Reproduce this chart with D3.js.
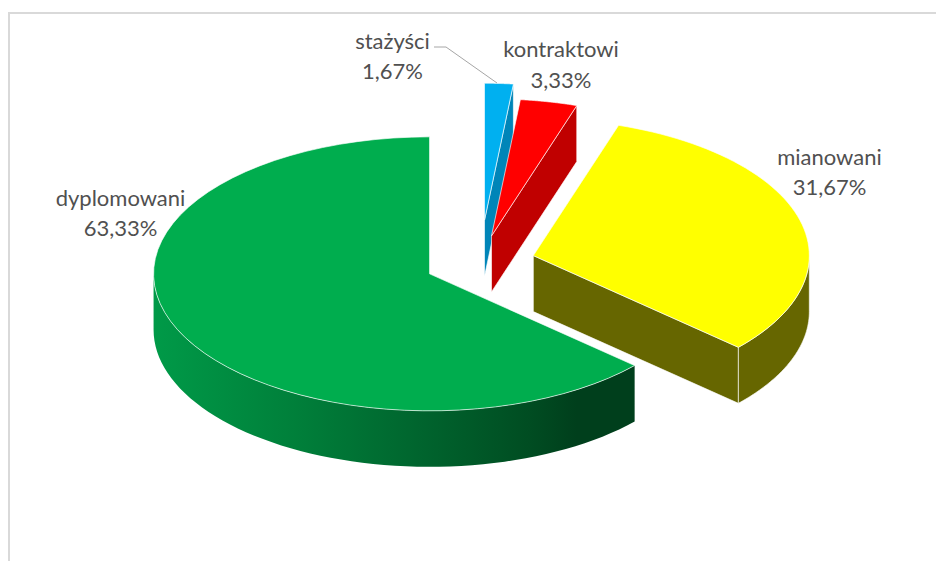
<!DOCTYPE html>
<html>
<head>
<meta charset="utf-8">
<script src="https://cdn.jsdelivr.net/npm/d3@7"></script>
<style>
  html, body { margin: 0; padding: 0; background: #fff; }
  svg { display: block; }
</style>
</head>
<body>
<div id="chart"></div>
<script>
const categories = ['stażyści', 'kontraktowi', 'mianowani', 'dyplomowani'];
const percents = [1.67, 3.33, 31.67, 63.33];
const percentLabels = ['1,67%', '3,33%', '31,67%', '63,33%'];

const width = 936, height = 561;
const rx = 276, ry = 137, depth = 56;
const cx = 480, cy = 262.7;

// how far each slice is pulled out of the pie, as a share of the radius
const explode = [0.31, 0.2, 0.2, 0.2];
const topColors = ['#00b0f0', '#ff0000', '#ffff00', '#00ad4e'];
const sideColors = ['#0085b8', '#c00000', '#666600', '#003f1c'];
const labelPos = [[392.5, 48.5], [561, 57], [829.5, 164.5], [120.5, 205.5]];

const svg = d3.select('#chart')
  .append('svg')
  .attr('width', width)
  .attr('height', height);

const line = d3.line();

// only the top and left of the chart frame are inside the picture
svg.append('path')
  .attr('d', line([[9, height], [9, 13], [width, 13]]))
  .style('fill', 'none')
  .style('stroke', '#d9d9d9')
  .style('stroke-width', 2);

const pie = d3.pie().sort(null).value(d => d)(percents);

const slices = pie.map((p, i) => {
  const mid = (p.startAngle + p.endAngle) / 2;
  return {
    i: i,
    start: p.startAngle,
    end: p.endAngle,
    ox: cx + explode[i] * rx * Math.sin(mid),
    oy: cy - explode[i] * ry * Math.cos(mid)
  };
});

const rim = (s, a, dy) => [s.ox + rx * Math.sin(a), s.oy - ry * Math.cos(a) + (dy || 0)];
const arcPts = (s, a0, a1, dy) => d3.range(0, 61).map(k => rim(s, a0 + (a1 - a0) * k / 60, dy));

const defs = svg.append('defs');
const grad = defs.append('linearGradient')
  .attr('id', 'greenWall')
  .attr('gradientUnits', 'userSpaceOnUse')
  .attr('x1', 153).attr('x2', 634).attr('y1', 0).attr('y2', 0);
[[0, '#009a48'], [0.3, '#007f3a'], [0.55, '#00652e'], [0.78, '#004d22'], [0.88, '#003f1c'], [1, '#003f1c']]
  .forEach(d => grad.append('stop').attr('offset', d[0]).attr('stop-color', d[1]));

const faceStroke = 'rgba(255,255,255,0.8)';

slices.forEach(s => {
  const g = svg.append('g').attr('class', 'slice');

  // radial wall on the trailing edge, only seen on the three right hand slices
  if (s.end < Math.PI) {
    const a = rim(s, s.end);
    const o = [s.ox, s.oy];
    const wall = [o, a, [a[0], a[1] + depth], [o[0], o[1] + depth]];
    g.append('path')
      .attr('d', line(wall) + 'Z')
      .style('fill', sideColors[s.i])
      .style('stroke', faceStroke)
      .style('stroke-width', 0.8);
  }

  // outer wall, the part of the rim that faces the viewer
  const a0 = Math.max(s.start, Math.PI / 2);
  const a1 = Math.min(s.end, Math.PI * 1.5);
  if (a1 > a0) {
    const pts = arcPts(s, a0, a1).concat(arcPts(s, a1, a0, depth));
    g.append('path')
      .attr('d', line(pts) + 'Z')
      .style('fill', s.i === 3 ? 'url(#greenWall)' : sideColors[s.i])
      .style('stroke', s.i === 3 ? 'none' : faceStroke)
      .style('stroke-width', 0.8);
  }

  // top face
  const face = [[s.ox, s.oy]].concat(arcPts(s, s.start, s.end));
  g.append('path')
    .attr('d', line(face) + 'Z')
    .style('fill', topColors[s.i])
    .style('stroke', faceStroke)
    .style('stroke-width', 0.8);
});

svg.append('path')
  .attr('d', line([[434, 47], [446, 47], [497, 83]]))
  .style('fill', 'none')
  .style('stroke', '#a6a6a6')
  .style('stroke-width', 1);

const labels = svg.selectAll('.label')
  .data(categories)
  .enter()
  .append('text')
  .attr('class', 'label')
  .attr('text-anchor', 'middle')
  .style('font-family', 'Lato, sans-serif')
  .style('font-size', '22px')
  .style('fill', '#505050');

labels.append('tspan')
  .attr('x', (d, i) => labelPos[i][0])
  .attr('y', (d, i) => labelPos[i][1])
  .text(d => d);

labels.append('tspan')
  .attr('x', (d, i) => labelPos[i][0])
  .attr('y', (d, i) => labelPos[i][1] + 30.5)
  .text((d, i) => percentLabels[i]);
</script>
</body>
</html>
